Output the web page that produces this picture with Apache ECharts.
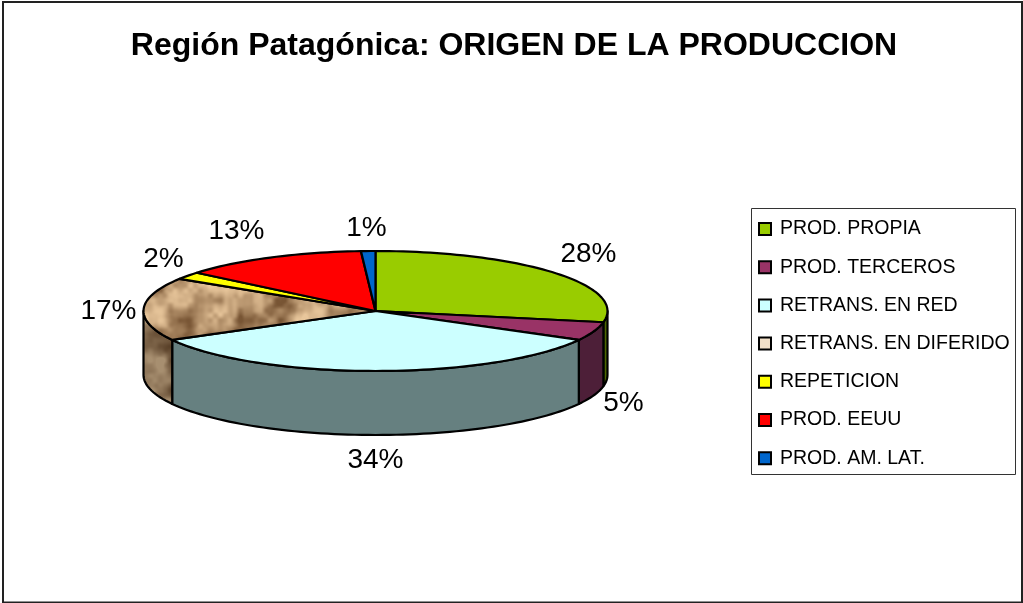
<!DOCTYPE html>
<html><head><meta charset="utf-8">
<style>html,body{margin:0;padding:0;background:#fff;overflow:hidden}#c{width:1023px;height:603px}</style>
<script src="https://cdn.jsdelivr.net/npm/echarts@6/dist/echarts.min.js"></script>
</head><body><div id="c"></div>
<script>
const titleText = 'Región Patagónica: ORIGEN DE LA PRODUCCION';
const categories = ['PROD. PROPIA','PROD. TERCEROS','RETRANS. EN RED','RETRANS. EN DIFERIDO','REPETICION','PROD. EEUU','PROD. AM. LAT.'];
const shares = [28,5,34,17,2,13,1];
const topColors = ['#99cc00','#993366','#ccffff',null,'#ffff00','#ff0000','#0066cc'];
const wallColors = ['#4d6600','#4d1f38','#668080',null,'#808000','#800000','#003366'];
const legendColors = ['#99cc00','#993366','#ccffff','#f2e0c8','#ffff00','#ff0000','#0066cc'];
// label offsets from pie centre
const labelOffsets = [[213,-57],[248,92],[0,149],[-267,0],[-212,-52],[-139,-80],[-9,-83]];
const G = {cx:375.5, cy:311, rx:232, ry:60, depth:64};

// deterministic mottled stone texture for the "diferido" slice
function tile(dark){
  const n=160,c=document.createElement('canvas');c.width=c.height=n;
  const x=c.getContext('2d'),im=x.createImageData(n,n);
  const h=(a,b,m)=>{a=(a+m)%m;b=(b+m)%m;const s=Math.sin(a*127.1+b*311.7+m*17.3)*43758.5453;return s-Math.floor(s);};
  const sm=t=>t*t*(3-2*t);
  const vn=(u,v,m)=>{const a=Math.floor(u),b=Math.floor(v),f=sm(u-a),g=sm(v-b);
    return (h(a,b,m)*(1-f)+h(a+1,b,m)*f)*(1-g)+(h(a,b+1,m)*(1-f)+h(a+1,b+1,m)*f)*g;};
  for(let j=0;j<n;j++)for(let i=0;i<n;i++){
    const u=i/n,v=j/n;
    let t=.55*vn(u*8,v*8,8)+.3*vn(u*16,v*16,16)+.15*vn(u*32,v*32,32);
    t=Math.max(0,Math.min(1,(t-.25)*2));
    const k=dark?.72:1,p=(j*n+i)*4;
    im.data[p]=k*(120+t*112);im.data[p+1]=k*(85+t*113);im.data[p+2]=k*(52+t*103);im.data[p+3]=255;
  }
  x.putImageData(im,0,0);return c;
}
const topTex={image:tile(false),repeat:'repeat'}, wallTex={image:tile(true),repeat:'repeat'};
const rad=p=>p*3.6*Math.PI/180;
const pt=(a,dy)=>[G.cx+G.rx*Math.sin(a),G.cy-G.ry*Math.cos(a)+(dy||0)];
function arc(a0,a1,dy){
  const out=[],n=Math.max(2,Math.ceil(Math.abs(a1-a0)/0.03));
  for(let i=0;i<=n;i++)out.push(pt(a0+(a1-a0)*i/n,dy));
  return out;
}
const edge={stroke:'#000',lineWidth:2.2,lineJoin:'round'};
function renderTop(params,api){
  const s=api.value(0),v=api.value(1),i=params.seriesIndex-1;
  const a0=rad(s),a1=rad(s+v);
  const pts=[[G.cx,G.cy]].concat(arc(a0,a1));
  const o=labelOffsets[i];
  return {type:'group',children:[
    {type:'polygon',shape:{points:pts},style:Object.assign({fill:topColors[i]||topTex},edge)},
    {type:'text',style:{text:v+'%',x:G.cx+o[0],y:G.cy+o[1],align:'center',verticalAlign:'middle',
      fill:'#000',font:'28px "Liberation Sans", Arial, sans-serif'}}
  ]};
}
function renderWall(params,api){
  const s=api.value(0),v=api.value(1),i=params.dataIndex;
  const lo=Math.max(rad(s),Math.PI/2),hi=Math.min(rad(s+v),3*Math.PI/2);
  if(hi<=lo)return {type:'group',children:[]};
  const pts=arc(lo,hi).concat(arc(hi,lo,G.depth));
  return {type:'polygon',shape:{points:pts},style:Object.assign({fill:wallColors[i]||wallTex},edge)};
}
const starts=[];shares.reduce((a,v,i)=>(starts[i]=a,a+v),0);
const series=[{type:'custom',name:'paredes',coordinateSystem:'none',silent:true,z:2,
  renderItem:renderWall,data:shares.map((v,i)=>[starts[i],v])}];
categories.forEach((n,i)=>series.push({type:'custom',name:n,coordinateSystem:'none',silent:true,z:3,
  renderItem:renderTop,data:[[starts[i],shares[i]]]}));
const chart=echarts.init(document.getElementById('c'),null,{renderer:'canvas',width:1023,height:603});
chart.setOption({
  animation:false,backgroundColor:'#fff',
  title:{text:titleText,left:509,top:25,textAlign:'center',
    textStyle:{fontFamily:'"Liberation Sans", Arial, sans-serif',fontWeight:'bold',fontSize:32,color:'#000'}},
  graphic:[
    {type:'rect',z:0,silent:true,shape:{x:3,y:2,width:1019,height:600.5},style:{fill:'#fff',stroke:'#222',lineWidth:2}},
    {type:'rect',z:0,silent:true,shape:{x:751.5,y:208.5,width:264,height:266},style:{fill:'#fff',stroke:'#333',lineWidth:1}}
  ],
  legend:{orient:'vertical',left:753,top:214,itemWidth:12,itemHeight:12,itemGap:18.2,icon:'rect',selectedMode:false,
    textStyle:{fontFamily:'"Liberation Sans", Arial, sans-serif',fontSize:19.5,color:'#000',padding:[0,0,0,4],lineHeight:16},
    data:categories.map((n,i)=>({name:n,icon:'rect',itemStyle:{color:legendColors[i],borderColor:'#000',borderWidth:2}}))},
  series
});
</script></body></html>
